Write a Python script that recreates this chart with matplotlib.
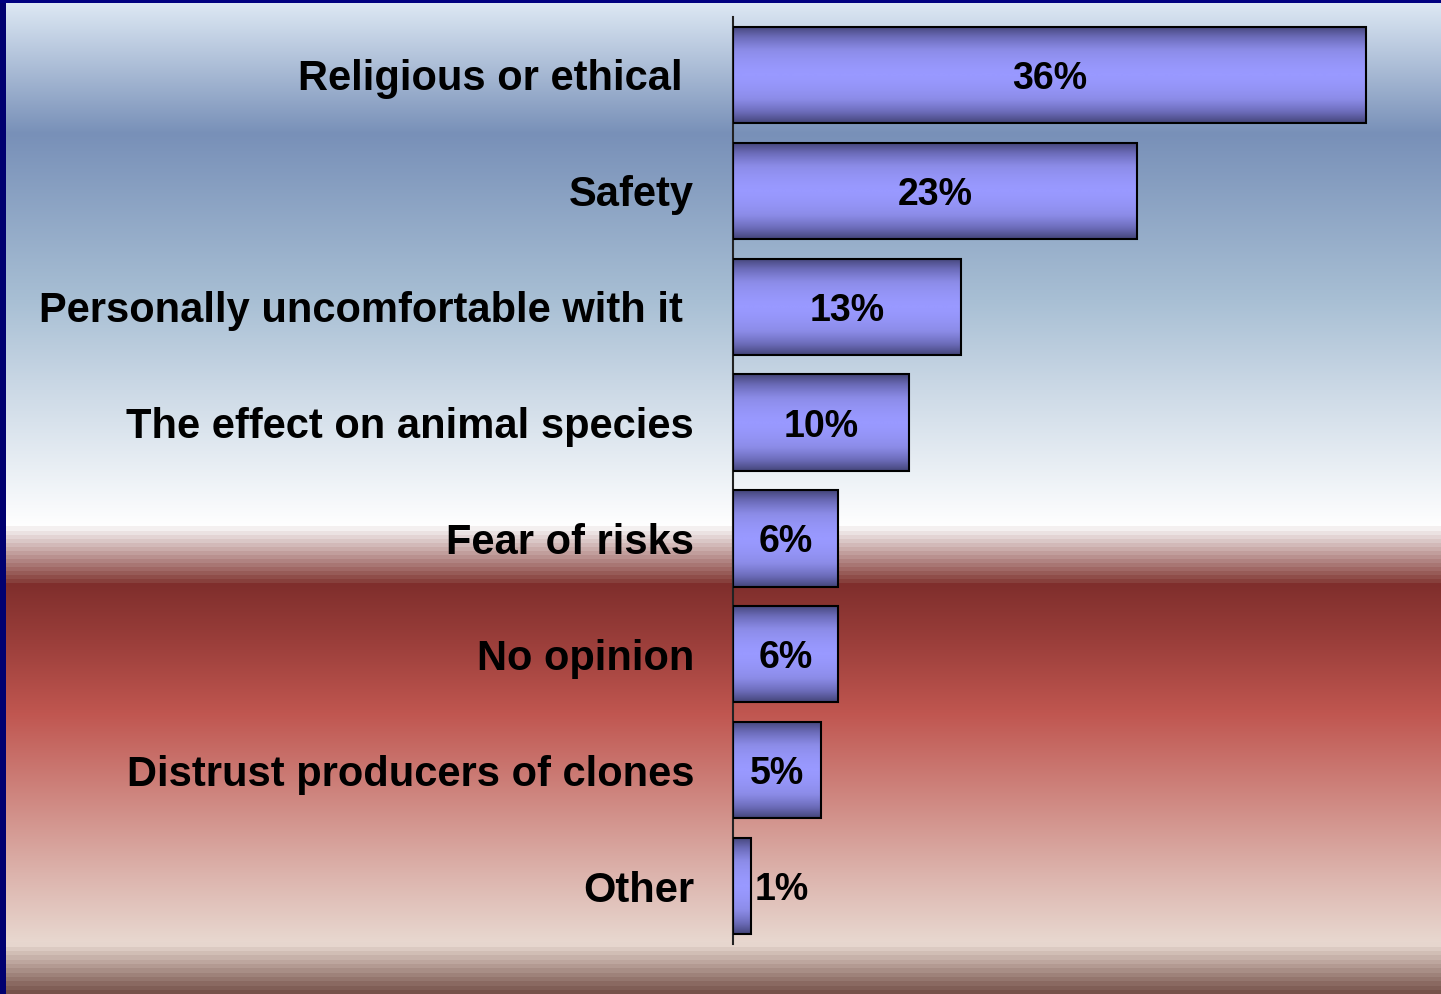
import numpy as np
import matplotlib
matplotlib.use("Agg")
import matplotlib.pyplot as plt
import matplotlib.colors as mcolors

categories = ["Religious or ethical ", "Safety", "Personally uncomfortable with it ",
              "The effect on animal species", "Fear of risks", "No opinion",
              "Distrust producers of clones", "Other"]
values = [36, 23, 13, 10, 6, 6, 5, 1]

W, H = 1441, 994
plt.rcParams['font.family'] = ['Liberation Sans', 'DejaVu Sans']


def hex_rgb(c):
    return np.array(mcolors.to_rgb(c))


def background():
    # (y pixel, colour) stops for the slide backdrop
    smooth = [(0, '#dfeaf5'), (133, '#7890b8'), (300, '#a8bfd4'), (400, '#d0dce8'),
              (526, '#ffffff')]
    red = [(583, '#7f2e2c'), (640, '#9a3e3a'), (713, '#c05650'), (873, '#dcb3ac'),
           (942, '#e8d8d0')]
    img = np.ones((H, W, 3))

    def fill(stops):
        for (ya, ca), (yb, cb) in zip(stops[:-1], stops[1:]):
            for y in range(ya, yb):
                t = (y - ya) / (yb - ya)
                img[y] = hex_rgb(ca) * (1 - t) + hex_rgb(cb) * t

    def bands(ya, yb, ca, cb, n):
        for y in range(ya, yb):
            t = np.floor((y - ya) / (yb - ya) * n) / (n - 1)
            img[y] = hex_rgb(ca) * (1 - t) + hex_rgb(cb) * t

    fill(smooth)
    bands(526, 583, '#f4f0f0', '#87403c', 14)
    fill(red)
    bands(942, H, '#e6d6ce', '#76524a', 12)
    img[:, :6] = hex_rgb('#000070')
    img[:3, :] = hex_rgb('#000080')
    return img


fig = plt.figure(figsize=(W / 100, H / 100), dpi=100)
bg = fig.add_axes([0, 0, 1, 1], zorder=-5)
bg.imshow(background(), aspect='auto', interpolation='nearest')
bg.axis('off')

left, right = 733 / W, 1436 / W
top, bottom = 1 - 17 / H, 1 - 944 / H
ax = fig.add_axes([left, bottom, right - left, top - bottom])
ax.set_facecolor('none')

y = np.arange(len(categories))
bars = ax.barh(y, values, height=0.83, facecolor='none', edgecolor='black',
               linewidth=1.5, zorder=3)

bar_cmap = mcolors.LinearSegmentedColormap.from_list(
    'bar', ['#9999ff', '#8c8ce8', '#6c6cba', '#45467a'])
prof = np.abs(np.linspace(-1, 1, 100)) ** 1.6
grad = prof.reshape(-1, 1)
for rect in bars:
    x0, y0, w, h = rect.get_x(), rect.get_y(), rect.get_width(), rect.get_height()
    im = ax.imshow(grad, extent=[x0, x0 + w, y0, y0 + h], aspect='auto',
                   cmap=bar_cmap, vmin=0, vmax=1, zorder=2, interpolation='bilinear')
    im.set_clip_path(rect)

for i, v in enumerate(values):
    if v < 2:
        ax.text(v + 0.25, i, f"{v}%", ha='left', va='center_baseline', fontsize=27,
                fontweight='bold', zorder=4)
    else:
        ax.text(v / 2, i, f"{v}%", ha='center', va='center_baseline', fontsize=27,
                fontweight='bold', zorder=4)

ax.set_xlim(0, 40)
ax.set_ylim(len(categories) - 0.5, -0.5)
ax.set_yticks(y)
ax.set_yticklabels(categories, fontsize=30, fontweight='bold')
ax.tick_params(axis='y', length=0, pad=28)
ax.set_xticks([])
for s in ['top', 'right', 'bottom']:
    ax.spines[s].set_visible(False)
ax.spines['left'].set_color('#222222')
ax.spines['left'].set_linewidth(1.5)

fig.savefig('out.png', dpi=100)
